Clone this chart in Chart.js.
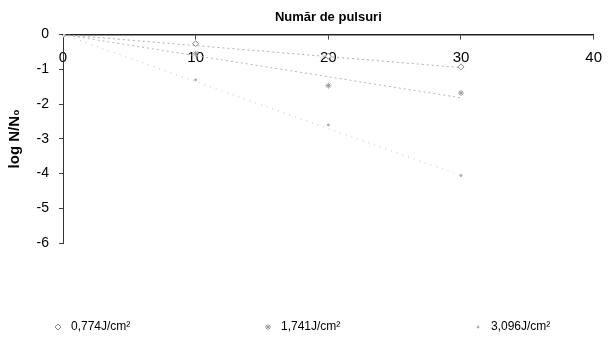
<!DOCTYPE html>
<html>
<head>
<meta charset="utf-8">
<script src="https://cdn.jsdelivr.net/npm/chart.js@4/dist/chart.umd.min.js"></script>
<style>
  body { margin: 0; background: #fff; }
  #wrap { width: 612px; height: 345px; }
</style>
</head>
<body>
<div id="wrap"><canvas id="myChart" width="612" height="345"></canvas></div>
<script>
// pulses (x) and log N/N0 values
var pulses = [0, 10, 20, 30];
var seriesLabels = ["0,774J/cm²", "1,741J/cm²", "3,096J/cm²"];
var s1 = [0, -0.26, -0.62, -0.93];
var s2 = [0, -0.55, -1.47, -1.68];
var s3 = [0, -1.3, -2.6, -4.06];
// trend lines: start and end values
var trendX = [0, 30];
var trend1 = [0, -0.95];
var trend2 = [0, -1.82];
var trend3 = [0, -4.06];
var xTicks = [0, 10, 20, 30, 40];
var yTicks = [0, -1, -2, -3, -4, -5, -6];

function pts(xs, ys) {
  return xs.map(function (x, i) { return { x: x, y: ys[i] }; });
}

var FONT = "Arial, 'Liberation Sans', sans-serif";

// legend drawn with wide spacing like the original
var spacedLegend = {
  id: "spacedLegend",
  afterDraw: function (chart) {
    var ctx = chart.ctx;
    var xs = [58, 268, 478];
    var y = 327;
    ctx.save();
    for (var i = 0; i < seriesLabels.length; i++) {
      var ds = chart.data.datasets[i];
      ctx.strokeStyle = ds.borderColor;
      ctx.fillStyle = ds.backgroundColor;
      ctx.lineWidth = 1;
      Chart.helpers.drawPoint(ctx, { pointStyle: ds.pointStyle, radius: ds.pointRadius, borderWidth: 1 }, xs[i], y);
      ctx.fillStyle = "#000";
      ctx.font = "12px " + FONT;
      ctx.textBaseline = "middle";
      ctx.fillText(ds.label, xs[i] + 13, y);
    }
    ctx.restore();
  }
};

var ctx = document.getElementById("myChart").getContext("2d");
var myChart = new Chart(ctx, {
  type: "scatter",
  data: {
    datasets: [
      {
        label: seriesLabels[0],
        data: pts(pulses, s1),
        pointStyle: "rectRot",
        pointRadius: 3,
        borderColor: "#8a8a8a",
        backgroundColor: "#ffffff",
        borderWidth: 1,
      },
      {
        label: seriesLabels[1],
        data: pts(pulses, s2),
        pointStyle: "star",
        pointRadius: 3,
        borderColor: "#9a9a9a",
        backgroundColor: "#ffffff",
        borderWidth: 1,
      },
      {
        label: seriesLabels[2],
        data: pts(pulses, s3),
        pointStyle: "circle",
        pointRadius: 1,
        borderColor: "#aaaaaa",
        backgroundColor: "#aaaaaa",
        borderWidth: 1,
      },
      {
        label: "trend1",
        data: pts(trendX, trend1),
        showLine: true,
        pointRadius: 0,
        borderColor: "#b0b0b0",
        borderWidth: 1,
        borderDash: [2, 3],
      },
      {
        label: "trend2",
        data: pts(trendX, trend2),
        showLine: true,
        pointRadius: 0,
        borderColor: "#b5b5b5",
        borderWidth: 1,
        borderDash: [2, 3],
      },
      {
        label: "trend3",
        data: pts(trendX, trend3),
        showLine: true,
        pointRadius: 0,
        borderColor: "#c0c0c0",
        borderWidth: 1,
        borderDash: [1, 5],
      },
    ],
  },
  options: {
    responsive: false,
    animation: false,
    layout: { padding: { left: 0, right: 8, top: 0, bottom: 102 } },
    plugins: {
      legend: { display: false },
      tooltip: { enabled: false },
      title: {
        display: true,
        text: "Număr de pulsuri",
        color: "#000",
        fullSize: false,
        font: { family: FONT, size: 13, weight: "bold" },
        padding: { top: 10, bottom: 9 },
      },
    },
    scales: {
      x: {
        type: "linear",
        position: { y: 0 },
        min: 0,
        max: 40,
        afterBuildTicks: function (scale) {
          scale.ticks = xTicks.map(function (v) { return { value: v }; });
        },
        border: { display: true, color: "#222", width: 1.5 },
        grid: { drawOnChartArea: false, tickLength: 4, color: "#444" },
        ticks: { color: "#000", padding: 10, font: { family: FONT, size: 15 } },
      },
      y: {
        type: "linear",
        min: -6,
        max: 0,
        afterBuildTicks: function (scale) {
          scale.ticks = yTicks.map(function (v) { return { value: v }; });
        },
        afterFit: function (scale) { scale.width = 63; },
        border: { display: true, color: "#333", width: 1 },
        grid: { drawOnChartArea: false, tickLength: 4, color: "#444" },
        ticks: { color: "#000", padding: 10, font: { family: FONT, size: 14 } },
        title: {
          display: true,
          text: "log N/N₀",
          color: "#000",
          font: { family: FONT, size: 15, weight: "bold" },
          padding: { top: 6, bottom: 0 },
        },
      },
    },
  },
  plugins: [spacedLegend],
});
</script>
</body>
</html>
